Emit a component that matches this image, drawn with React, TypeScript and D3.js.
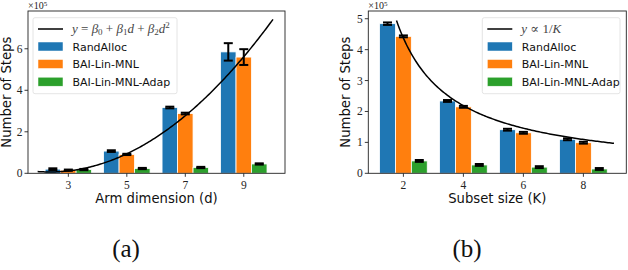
import React from "react";
import * as d3 from "d3";

// ---- Data ----
const armDims = [3, 5, 7, 9];
const armRandAlloc = [0.2, 1.07, 3.17, 5.85];
const armRandAllocErr = [0.04, 0.04, 0.04, 0.42];
const armLinMNL = [0.15, 0.91, 2.88, 5.6];
const armLinMNLErr = [0.03, 0.03, 0.04, 0.38];
const armAdap = [0.18, 0.23, 0.28, 0.45];
const armAdapErr = [0.03, 0.03, 0.03, 0.03];
const armFitCoef = [0.768, -0.596, 0.1261]; // beta0, beta1, beta2
const armFitRange = [1.95, 10.0];
const armYTicks = [0, 2, 4, 6];

const subsetSizes = [2, 4, 6, 8];
const subRandAlloc = [4.84, 2.34, 1.41, 1.1];
const subRandAllocErr = [0.04, 0.03, 0.03, 0.03];
const subLinMNL = [4.43, 2.15, 1.31, 0.99];
const subLinMNLErr = [0.03, 0.03, 0.03, 0.03];
const subAdap = [0.4, 0.27, 0.2, 0.14];
const subAdapErr = [0.03, 0.03, 0.03, 0.03];
const subFitConst = 8.75; // y = c / K
const subFitRange = [1.77, 9.05];
const subYTicks = [0, 1, 2, 3, 4, 5];

const seriesNames = ["RandAlloc", "BAI-Lin-MNL", "BAI-Lin-MNL-Adap"];
const colors = ["#1f77b4", "#ff7f0e", "#2ca02c"];

const SANS = "'DejaVu Sans', sans-serif";
const SERIF = "'Liberation Serif', 'DejaVu Serif', serif";

type PanelProps = {
  left: number;
  right: number;
  top: number;
  bottom: number;
  xDomain: [number, number];
  yDomain: [number, number];
  cats: number[];
  series: number[][];
  errs: number[][];
  yTicks: number[];
  curve: [number, number][];
  xLabel: string;
  panelLabel: string;
  panelLabelX: number;
  legendX: number;
  legendW: number;
  legendMath: React.ReactNode;
  ylabelX: number;
};

function Panel(p: PanelProps) {
  const x = d3.scaleLinear().domain(p.xDomain).range([p.left, p.right]);
  const y = d3.scaleLinear().domain(p.yDomain).range([p.bottom, p.top]);
  const bw = 0.53;
  const offsets = [-bw, 0, bw];
  const line = d3
    .line<[number, number]>()
    .x((d) => x(d[0]))
    .y((d) => y(d[1]));
  const cx = (p.left + p.right) / 2;
  const legendTop = 17.7;
  const rowY = [29, 46.5, 64, 81.7];
  return (
    <g>
      <defs>
        <clipPath id={"clip" + p.panelLabel}>
          <rect x={p.left} y={p.top} width={p.right - p.left} height={p.bottom - p.top} />
        </clipPath>
      </defs>
      {/* bars */}
      {p.series.map((s, si) =>
        s.map((v, i) => {
          const x0 = x(p.cats[i] + offsets[si] - bw / 2);
          const x1 = x(p.cats[i] + offsets[si] + bw / 2);
          return (
            <rect
              key={`b${si}-${i}`}
              x={x0}
              y={y(v)}
              width={x1 - x0}
              height={y(0) - y(v)}
              fill={colors[si]}
              stroke="#fff"
              strokeWidth={0.8}
            />
          );
        })
      )}
      {/* error bars */}
      {p.series.map((s, si) =>
        s.map((v, i) => {
          const xc = x(p.cats[i] + offsets[si]);
          const e = p.errs[si][i];
          return (
            <g key={`e${si}-${i}`} stroke="#000" strokeWidth={2}>
              <line x1={xc} x2={xc} y1={y(v - e)} y2={y(v + e)} />
              <line x1={xc - 4.5} x2={xc + 4.5} y1={y(v - e)} y2={y(v - e)} />
              <line x1={xc - 4.5} x2={xc + 4.5} y1={y(v + e)} y2={y(v + e)} />
            </g>
          );
        })
      )}
      {/* fit curve */}
      <path d={line(p.curve) || ""} fill="none" stroke="#000" strokeWidth={1.5} clipPath={`url(#clip${p.panelLabel})`} />
      {/* spines */}
      <rect x={p.left} y={p.top} width={p.right - p.left} height={p.bottom - p.top} fill="none" stroke="#222" strokeWidth={0.9} />
      {/* y ticks */}
      {p.yTicks.map((t) => (
        <g key={`yt${t}`}>
          <line x1={p.left - 3.5} x2={p.left} y1={y(t)} y2={y(t)} stroke="#222" strokeWidth={0.9} />
          <text x={p.left - 5.5} y={y(t)} dy="0.35em" textAnchor="end" fontFamily={SERIF} fontSize={11.5} fill="#222">
            {t}
          </text>
        </g>
      ))}
      {/* x ticks */}
      {p.cats.map((t) => (
        <g key={`xt${t}`}>
          <line x1={x(t)} x2={x(t)} y1={p.bottom} y2={p.bottom + 3.5} stroke="#222" strokeWidth={0.9} />
          <text x={x(t)} y={p.bottom + 15.5} textAnchor="middle" fontFamily={SERIF} fontSize={11.5} fill="#222">
            {t}
          </text>
        </g>
      ))}
      {/* exponent */}
      <text x={p.left} y={9} fontFamily={SERIF} fontSize={10} fill="#222">
        ×10
        <tspan dy={-3} fontSize={7}>5</tspan>
      </text>
      {/* y label */}
      <text
        transform={`translate(${p.ylabelX},${(p.top + p.bottom) / 2}) rotate(-90)`}
        textAnchor="middle"
        fontFamily={SANS}
        fontSize={13.2}
        fill="#111"
      >
        Number of Steps
      </text>
      {/* x label */}
      <text x={cx} y={203} textAnchor="middle" fontFamily={SANS} fontSize={13.2} fill="#111">
        {p.xLabel}
      </text>
      {/* panel label */}
      <text x={p.panelLabelX} y={257} textAnchor="middle" fontFamily={SERIF} fontSize={25} fill="#111">
        {p.panelLabel}
      </text>
      {/* legend */}
      <rect
        x={p.legendX}
        y={legendTop}
        width={p.legendW}
        height={76}
        rx={2}
        fill="#fff"
        fillOpacity={0.8}
        stroke="#ddd"
        strokeWidth={0.8}
      />
      <line x1={p.legendX + 5} x2={p.legendX + 30} y1={rowY[0]} y2={rowY[0]} stroke="#000" strokeWidth={1.5} />
      <g transform={`translate(${p.legendX + 39},${rowY[0] + 4})`}>{p.legendMath}</g>
      {seriesNames.map((n, i) => (
        <g key={n}>
          <rect x={p.legendX + 5} y={rowY[i + 1] - 4.5} width={25} height={9} fill={colors[i]} stroke="#fff" strokeWidth={0.5} />
          <text x={p.legendX + 39.5} y={rowY[i + 1] + 4} fontFamily={SANS} fontSize={11} fill="#111">
            {n}
          </text>
        </g>
      ))}
    </g>
  );
}

export default function App() {
  const armCurve: [number, number][] = d3
    .range(armFitRange[0], armFitRange[1] + 0.001, 0.05)
    .map((d) => [d, armFitCoef[0] + armFitCoef[1] * d + armFitCoef[2] * d * d]);
  const subCurve: [number, number][] = d3
    .range(subFitRange[0], subFitRange[1] + 0.001, 0.05)
    .map((k) => [k, subFitConst / k]);

  const mathA = (
    <text fontFamily={SERIF} fontSize={13} fill="#444">
      <tspan fontStyle="italic">y</tspan>
      <tspan> = </tspan>
      <tspan fontStyle="italic">β</tspan>
      <tspan fontSize={9} dy={2}>0</tspan>
      <tspan dy={-2}> + </tspan>
      <tspan fontStyle="italic">β</tspan>
      <tspan fontSize={9} dy={2}>1</tspan>
      <tspan fontStyle="italic" dy={-2}>d</tspan>
      <tspan> + </tspan>
      <tspan fontStyle="italic">β</tspan>
      <tspan fontSize={9} dy={2}>2</tspan>
      <tspan fontStyle="italic" dy={-2}>d</tspan>
      <tspan fontSize={9} dy={-5}>2</tspan>
    </text>
  );
  const mathB = (
    <text fontFamily={SERIF} fontSize={13} fill="#444">
      <tspan fontStyle="italic">y</tspan>
      <tspan> ∝ 1/</tspan>
      <tspan fontStyle="italic">K</tspan>
    </text>
  );

  return (
    <svg width={628} height={270} style={{ position: "absolute", left: 0, top: 0, background: "#fff" }}>
      <Panel
        left={28}
        right={285}
        top={11}
        bottom={173.3}
        xDomain={[1.62, 10.41]}
        yDomain={[0, 7.82]}
        cats={armDims}
        series={[armRandAlloc, armLinMNL, armAdap]}
        errs={[armRandAllocErr, armLinMNLErr, armAdapErr]}
        yTicks={armYTicks}
        curve={armCurve}
        xLabel="Arm dimension (d)"
        panelLabel="(a)"
        panelLabelX={126}
        legendX={33}
        legendW={144}
        legendMath={mathA}
        ylabelX={11}
      />
      <Panel
        left={368.3}
        right={626.3}
        top={11}
        bottom={173.3}
        xDomain={[0.83, 9.43]}
        yDomain={[0, 5.25]}
        cats={subsetSizes}
        series={[subRandAlloc, subLinMNL, subAdap]}
        errs={[subRandAllocErr, subLinMNLErr, subAdapErr]}
        yTicks={subYTicks}
        curve={subCurve}
        xLabel="Subset size (K)"
        panelLabel="(b)"
        panelLabelX={467}
        legendX={482.3}
        legendW={137.7}
        legendMath={mathB}
        ylabelX={350}
      />
    </svg>
  );
}
